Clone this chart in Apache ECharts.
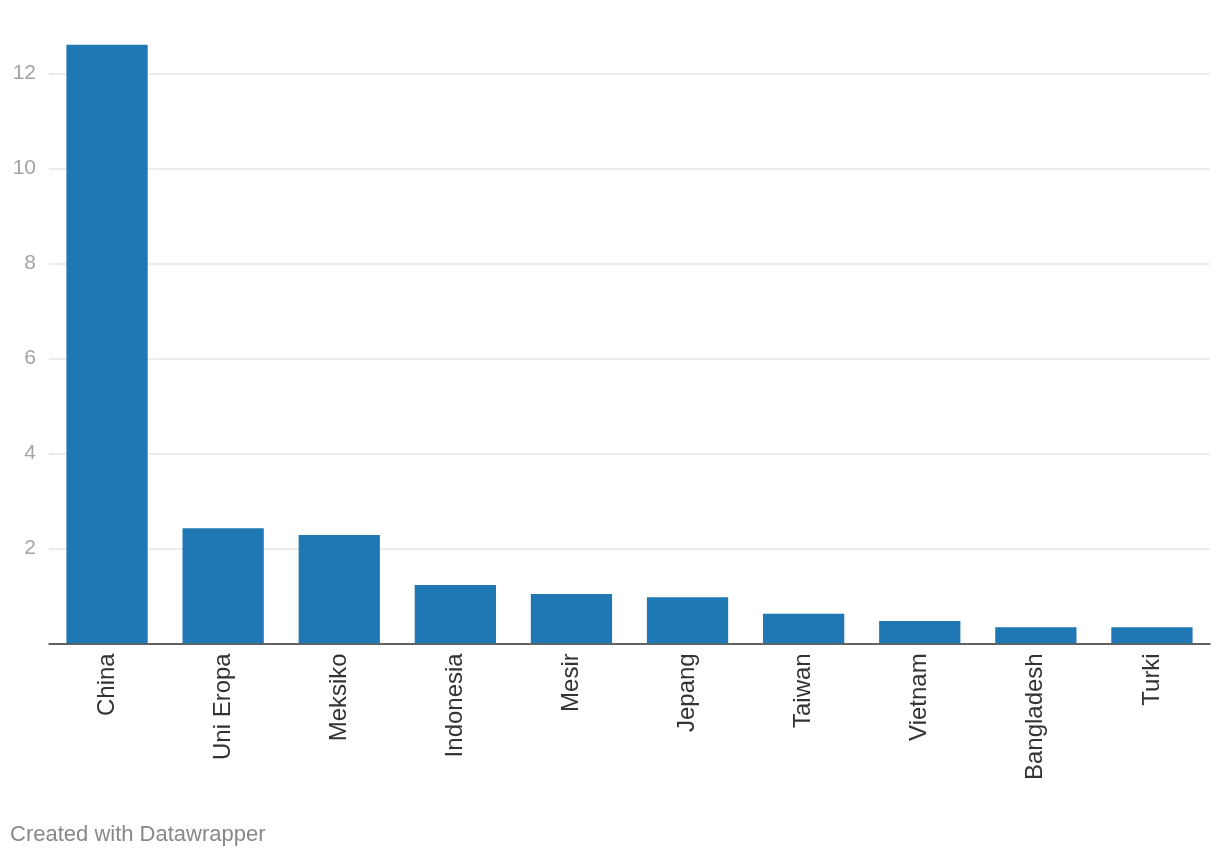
<!DOCTYPE html>
<html>
<head>
<meta charset="utf-8">
<script src="https://cdn.jsdelivr.net/npm/echarts@6/dist/echarts.min.js"></script>
<style>
html,body{margin:0;padding:0;background:#fff;}
#chart{width:1220px;height:860px;}
</style>
</head>
<body>
<div id="chart"></div>
<script>
const categories = ["China","Uni Eropa","Meksiko","Indonesia","Mesir","Jepang","Taiwan","Vietnam","Bangladesh","Turki"];
const values = [12.60, 2.42, 2.28, 1.23, 1.04, 0.97, 0.62, 0.47, 0.34, 0.34];
const yTicks = [0, 2, 4, 6, 8, 10, 12];

const chart = echarts.init(document.getElementById('chart'), null, {renderer: 'canvas'});
const font = 'Helvetica Neue, Helvetica, Arial, "Liberation Sans", sans-serif';
chart.setOption({
  animation: false,
  grid: {left: 49, right: 10, top: 73.3, bottom: 216.7, containLabel: false},
  xAxis: {
    type: 'category',
    data: categories,
    axisLine: {show: true, lineStyle: {color: '#333', width: 1.5}},
    axisTick: {show: false},
    axisLabel: {rotate: 90, margin: 10, color: '#333', fontSize: 24, fontFamily: font}
  },
  yAxis: {
    type: 'value',
    min: yTicks[0],
    max: yTicks[yTicks.length - 1],
    interval: 2,
    axisLine: {show: false},
    axisTick: {show: false},
    axisLabel: {
      margin: 13, color: '#a3a3a3', fontSize: 21, fontFamily: font,
      formatter: v => v === 0 ? '' : String(v)
    },
    splitLine: {lineStyle: {color: '#e6e6e6', width: 1.5}}
  },
  series: [{
    type: 'bar',
    data: values,
    clip: false,
    barCategoryGap: '30%',
    itemStyle: {color: '#1f77b4'}
  }],
  graphic: [{
    type: 'text',
    left: 10,
    top: 824,
    style: {text: 'Created with Datawrapper', fill: '#888', fontSize: 22, fontFamily: font}
  }]
});
</script>
</body>
</html>
